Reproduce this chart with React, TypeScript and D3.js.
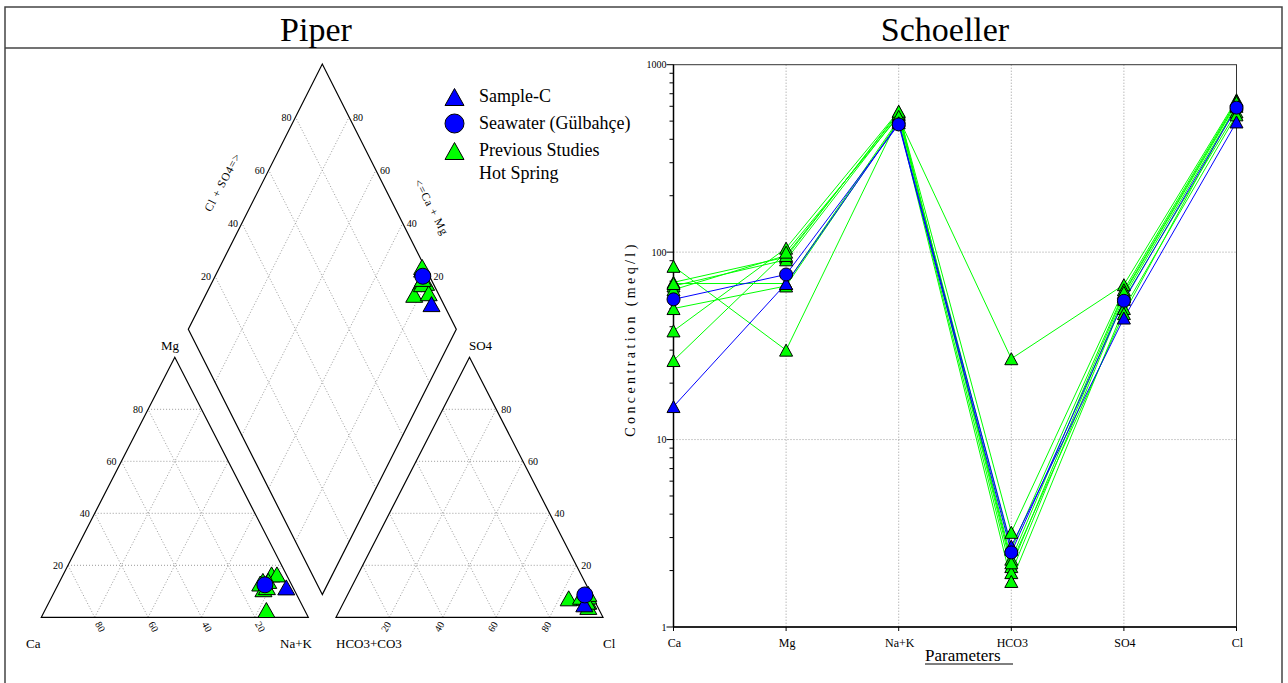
import React from 'react';
import * as d3 from 'd3';

const FONT = '"Liberation Serif", "Times New Roman", serif';
const GREEN = '#00ff00';
const BLUE = '#0000ff';
const GRID = '#9a9a9a';

// ---- Piper data, % of meq/l (8 hot springs, Sample-C, Seawater) ----
const piperKinds = ['hot', 'hot', 'hot', 'hot', 'hot', 'hot', 'hot', 'hot', 'sample', 'sea'];
const piperCa = [5.5, 3.5, 10, 11.5, 11.4, 9.7, 14.3, 8, 2.5, 10];
const piperMg = [16.5, 16.5, 14, 13, 10.8, 11.6, 2.8, 14, 11.5, 12.5];
const piperSO4 = [7.5, 6, 8, 9, 7.3, 7.9, 4, 6, 5, 8.6];
const piperCl = [88, 91.5, 90.5, 90, 83.5, 87.8, 92.5, 91, 90.5, 88.9];

// ---- Schoeller data, meq/l ----
const params = ['Ca', 'Mg', 'Na+K', 'HCO3', 'SO4', 'Cl'];
const hot1 = [84, 30, 520, 27, 67, 650];
const hot2 = [69, 94, 560, 3.2, 63, 640];
const hot3 = [66, 91, 540, 2.3, 60, 620];
const hot4 = [63, 96, 550, 2.1, 58, 600];
const hot5 = [68, 68, 510, 1.95, 56, 560];
const hot6 = [50, 66, 500, 1.75, 50, 540];
const hot7 = [38, 105, 565, 2.2, 47, 610];
const hot8 = [26.4, 100, 530, 2.6, 61, 630];
const sampleC = [15, 68, 490, 2.7, 44.5, 495];
const seawater = [56, 76, 480, 2.5, 55, 590];
const yTicks = [1, 10, 100, 1000];

const legendItems = [
  { kind: 'sample', lines: ['Sample-C'] },
  { kind: 'sea', lines: ['Seawater (Gülbahçe)'] },
  { kind: 'hot', lines: ['Previous Studies', 'Hot Spring'] },
];

const levels = [20, 40, 60, 80];

const triPath = (w: number, h: number) => `M0,${-h / 2}L${w / 2},${h / 2}L${-w / 2},${h / 2}Z`;

function Marker({ kind, x, y, tw, th, r }: any) {
  const fill = kind === 'hot' ? GREEN : BLUE;
  if (kind === 'sea') {
    return <circle cx={x} cy={y} r={r} fill={fill} stroke="#000" strokeWidth={1} />;
  }
  return <path d={triPath(tw, th)} transform={`translate(${x},${y})`} fill={fill} stroke="#000" strokeWidth={1} />;
}

// ---- Piper geometry ----
const baseY = 617.3;
const catX0 = 41.3;
const anX0 = 336;
const sx = d3.scaleLinear().domain([0, 100]).range([0, 267]);
const sy = d3.scaleLinear().domain([0, 100]).range([0, 260]);
const dCx = 322.3;
const dBottom = 594.6;
const dx = d3.scaleLinear().domain([0, 100]).range([0, 134]);
const dy = d3.scaleLinear().domain([0, 100]).range([0, 265.3]);

const cat = (ca: number, mg: number) => {
  const nak = 100 - ca - mg;
  return [catX0 + sx(nak + mg / 2), baseY - sy(mg)];
};
const an = (so4: number, cl: number) => [anX0 + sx(cl + so4 / 2), baseY - sy(so4)];
const dia = (caMg: number, so4Cl: number) => [dCx + dx(so4Cl - caMg), dBottom - dy(caMg + so4Cl)];

function Piper() {
  const line = (p: number[], q: number[], k: string) => (
    <line key={k} x1={p[0]} y1={p[1]} x2={q[0]} y2={q[1]} stroke={GRID} strokeWidth={1} strokeDasharray="1 2" />
  );
  const grid: any[] = [];
  levels.forEach((k) => {
    // cation
    grid.push(line(cat(100 - k, k), cat(0, k), `cm${k}`));
    grid.push(line(cat(k, 0), cat(k, 100 - k), `cc${k}`));
    grid.push(line(cat(100 - k, 0), cat(0, 100 - k), `cn${k}`));
    // anion
    grid.push(line(an(k, 0), an(k, 100 - k), `as${k}`));
    grid.push(line(an(0, k), an(100 - k, k), `ac${k}`));
    grid.push(line(an(0, 100 - k), an(100 - k, 0), `ah${k}`));
    // diamond
    grid.push(line(dia(k, 0), dia(k, 100), `da${k}`));
    grid.push(line(dia(0, k), dia(100, k), `db${k}`));
  });

  const outline = (pts: number[][]) => pts.map((p) => p.join(',')).join(' ');
  const order = [0, 1, 2, 3, 4, 5, 6, 7, 8, 9];

  return (
    <g fontFamily={FONT}>
      {grid}
      <polygon points={outline([cat(100, 0), cat(0, 0), cat(0, 100)])} fill="none" stroke="#000" strokeWidth={1.2} />
      <polygon points={outline([an(0, 0), an(0, 100), an(100, 0)])} fill="none" stroke="#000" strokeWidth={1.2} />
      <polygon points={outline([dia(0, 0), dia(100, 0), dia(100, 100), dia(0, 100)])} fill="none" stroke="#000" strokeWidth={1.2} />

      {/* cation tick labels */}
      {levels.map((k) => {
        const p = cat(100 - k, k);
        return <text key={`lm${k}`} x={p[0] - 5} y={p[1]} dy="0.35em" textAnchor="end" fontSize={10}>{k}</text>;
      })}
      {levels.map((k) => {
        const p = cat(k, 0);
        return (
          <text key={`lc${k}`} transform={`translate(${p[0] + 3},${p[1] + 5}) rotate(60)`} dy="0.35em" fontSize={10}>{k}</text>
        );
      })}
      {/* anion tick labels */}
      {levels.map((k) => {
        const p = an(k, 100 - k);
        return <text key={`ls${k}`} x={p[0] + 5} y={p[1]} dy="0.35em" fontSize={10}>{k}</text>;
      })}
      {levels.map((k) => {
        const p = an(0, k);
        return (
          <text key={`lcl${k}`} transform={`translate(${p[0] - 1},${p[1] + 5}) rotate(-60)`} dy="0.35em" textAnchor="end" fontSize={10}>{k}</text>
        );
      })}
      {/* diamond tick labels */}
      {levels.map((k) => {
        const p = dia(100, k);
        return <text key={`dl${k}`} x={p[0] - 4} y={p[1]} dy="0.35em" textAnchor="end" fontSize={10}>{k}</text>;
      })}
      {levels.map((k) => {
        const p = dia(k, 100);
        return <text key={`dr${k}`} x={p[0] + 4} y={p[1]} dy="0.35em" fontSize={10}>{k}</text>;
      })}
      <text transform={`translate(226,184) rotate(-62)`} textAnchor="middle" fontSize={11.5} letterSpacing={0.8}>Cl + SO4=&gt;</text>
      <text transform={`translate(428,209) rotate(63)`} textAnchor="middle" fontSize={11.5} letterSpacing={0.8}>&lt;=Ca + Mg</text>

      {/* corner labels */}
      <text x={170} y={350} textAnchor="middle" fontSize={13}>Mg</text>
      <text x={26} y={648} fontSize={13}>Ca</text>
      <text x={280} y={648} fontSize={13}>Na+K</text>
      <text x={469} y={350} fontSize={13}>SO4</text>
      <text x={336} y={648} fontSize={13}>HCO3+CO3</text>
      <text x={603} y={648} fontSize={13}>Cl</text>

      {/* samples */}
      {order.map((i) => {
        const p = cat(piperCa[i], piperMg[i]);
        return <Marker key={`pc${i}`} kind={piperKinds[i]} x={p[0]} y={p[1]} tw={17} th={15} r={8} />;
      })}
      {order.map((i) => {
        const p = an(piperSO4[i], piperCl[i]);
        return <Marker key={`pa${i}`} kind={piperKinds[i]} x={p[0]} y={p[1]} tw={17} th={15} r={8} />;
      })}
      {order.map((i) => {
        const p = dia(piperCa[i] + piperMg[i], piperSO4[i] + piperCl[i]);
        return <Marker key={`pd${i}`} kind={piperKinds[i]} x={p[0]} y={p[1]} tw={17} th={15} r={8} />;
      })}

      {/* legend */}
      {legendItems.map((it, i) => {
        const y = [97, 123.5, 151][i];
        return (
          <g key={`lg${i}`}>
            <Marker kind={it.kind} x={454.5} y={y} tw={19} th={17} r={9.5} />
            {it.lines.map((t, j) => (
              <text key={j} x={479} y={y + 5 + j * 22.5} fontSize={18}>{t}</text>
            ))}
          </g>
        );
      })}
    </g>
  );
}

// ---- Schoeller ----
const left = 673.5, right = 1236.5, top = 64.7, bottom = 627;
const xS = d3.scalePoint<string>().domain(params).range([left, right]);
const yS = d3.scaleLog().domain([1, 1000]).range([bottom, top]);

function Schoeller() {
  const series = [
    { kind: 'hot', v: hot1 }, { kind: 'hot', v: hot2 }, { kind: 'hot', v: hot3 }, { kind: 'hot', v: hot4 },
    { kind: 'hot', v: hot5 }, { kind: 'hot', v: hot6 }, { kind: 'hot', v: hot7 }, { kind: 'hot', v: hot8 },
    { kind: 'sample', v: sampleC }, { kind: 'sea', v: seawater },
  ];
  const lineGen = d3.line<number>().x((_, i) => xS(params[i]) as number).y((d) => yS(d));
  const minor: number[] = [];
  [1, 10, 100].forEach((d) => d3.range(2, 10).forEach((m) => minor.push(d * m)));

  return (
    <g fontFamily={FONT}>
      {params.slice(1, -1).map((p) => (
        <line key={`vg${p}`} x1={xS(p)} x2={xS(p)} y1={top} y2={bottom} stroke={GRID} strokeDasharray="1 2" />
      ))}
      {[10, 100].map((t) => (
        <line key={`hg${t}`} x1={left} x2={right} y1={yS(t)} y2={yS(t)} stroke={GRID} strokeDasharray="1 2" />
      ))}
      <rect x={left} y={top} width={right - left} height={bottom - top} fill="none" stroke="#333" strokeWidth={1} />
      <line x1={left} x2={left} y1={top} y2={bottom} stroke="#000" strokeWidth={1.5} />
      <line x1={left} x2={right} y1={bottom} y2={bottom} stroke="#000" strokeWidth={1.5} />
      {yTicks.map((t) => (
        <g key={`yt${t}`}>
          <line x1={left - 7} x2={left} y1={yS(t)} y2={yS(t)} stroke="#000" />
          <text x={left - 7} y={yS(t)} dy="0.35em" textAnchor="end" fontSize={10}>{t}</text>
        </g>
      ))}
      {minor.map((t) => (
        <line key={`mt${t}`} x1={left - 4} x2={left} y1={yS(t)} y2={yS(t)} stroke="#000" />
      ))}
      {params.map((p) => (
        <g key={`xt${p}`}>
          <line x1={xS(p)} x2={xS(p)} y1={bottom} y2={bottom + 4} stroke="#000" />
          <text x={(xS(p) as number) + 1} y={bottom + 20} textAnchor="middle" fontSize={12}>{p}</text>
        </g>
      ))}
      <text x={925} y={661} fontSize={17}>Parameters</text>
      <line x1={925} x2={1013} y1={664} y2={664} stroke="#000" strokeWidth={1} />
      <text transform={`translate(635,339) rotate(-90)`} textAnchor="middle" fontSize={14} letterSpacing={3.4}>Concentration (meq/l)</text>

      {series.map((s, i) => (
        <path key={`sl${i}`} d={lineGen(s.v) as string} fill="none" stroke={s.kind === 'hot' ? GREEN : BLUE} strokeWidth={1} />
      ))}
      {series.map((s, i) =>
        s.v.map((v, j) => (
          <Marker key={`sm${i}-${j}`} kind={s.kind} x={xS(params[j])} y={yS(v)} tw={13} th={12} r={6.5} />
        ))
      )}
    </g>
  );
}

export default function App() {
  return (
    <svg width={1288} height={683} style={{ position: 'absolute', left: 0, top: 0, background: '#fff' }}>
      <rect x={0} y={0} width={1288} height={683} fill="#fff" />
      <rect x={5} y={7} width={1277} height={690} fill="none" stroke="#444" strokeWidth={1.5} />
      <line x1={5} x2={1282} y1={48} y2={48} stroke="#444" strokeWidth={1.5} />
      <text x={316} y={41} textAnchor="middle" fontFamily={FONT} fontSize={34}>Piper</text>
      <text x={945} y={41} textAnchor="middle" fontFamily={FONT} fontSize={34}>Schoeller</text>
      <Piper />
      <Schoeller />
    </svg>
  );
}
